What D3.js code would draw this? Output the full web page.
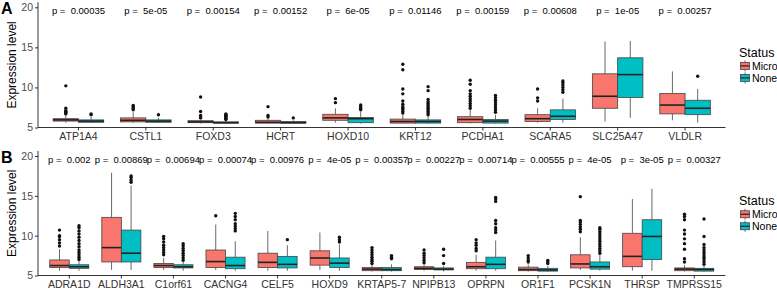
<!DOCTYPE html>
<html>
<head>
<meta charset="utf-8">
<style>
  body { margin: 0; background: #fff; }
  text { font-family: "Liberation Sans", Arial, sans-serif; }
</style>
</head>
<body>
<svg width="777" height="289"></svg>
<script src="https://d3js.org/d3.v7.min.js"></script>
<script>
  // panel A
  var genesA = ["ATP1A4", "CSTL1", "FOXD3", "HCRT", "HOXD10", "KRT12", "PCDHA1", "SCARA5", "SLC25A47", "VLDLR"];
  var pA = ["0.00035", "5e-05", "0.00154", "0.00152", "6e-05", "0.01146", "0.00159", "0.00608", "1e-05", "0.00257"];
  // [lower whisker, q1, median, q3, upper whisker]
  var microA = [
    [5.6, 5.8, 5.95, 6.1, 6.5], [5.6, 5.7, 5.9, 6.2, 6.9], [5.5, 5.6, 5.7, 5.85, 6.0],
    [5.5, 5.55, 5.65, 5.9, 6.1], [5.6, 5.9, 6.2, 6.65, 7.4], [5.5, 5.55, 5.75, 6.05, 6.6],
    [5.5, 5.6, 6.0, 6.35, 7.2], [5.6, 5.75, 6.1, 6.6, 7.4], [5.75, 7.4, 8.9, 11.7, 15.75],
    [5.9, 6.7, 7.8, 9.25, 12.0]
  ];
  var noneA = [
    [5.55, 5.65, 5.8, 5.95, 6.3], [5.55, 5.65, 5.8, 5.95, 6.2], [5.5, 5.55, 5.6, 5.7, 5.9],
    [5.5, 5.55, 5.6, 5.75, 5.9], [5.5, 5.6, 6.1, 6.25, 7.0], [5.5, 5.55, 5.75, 5.95, 6.4],
    [5.5, 5.55, 5.8, 6.0, 6.6], [5.6, 6.0, 6.4, 7.2, 8.6], [6.2, 8.75, 11.6, 13.7, 15.8],
    [5.6, 6.6, 7.4, 8.4, 9.8]
  ];
  var microOutA = [
    [6.7, 6.8, 6.9, 7.0, 7.1, 7.4, 10.2], [7.2, 7.4, 7.6, 7.75], [6.2, 6.3, 6.5, 7.0, 8.8],
    [6.3, 6.5, 7.6], [8.1, 8.6], [6.8, 7.0, 7.2, 7.4, 7.6, 7.9, 8.3, 9.2, 9.8, 12.2, 12.9],
    [7.4, 7.7, 8.0, 8.3, 8.6, 8.9, 9.2, 9.6, 10.4, 10.9], [8.3, 8.7, 9.8], [], []
  ];
  var noneOutA = [
    [6.6, 6.7], [6.6], [6.0, 6.1, 6.2, 6.3, 6.4, 6.5, 6.6, 6.7], [6.2], [7.2, 7.4, 7.6, 7.8],
    [6.6, 6.8, 7.0, 7.2, 7.4, 7.6, 7.8, 8.0, 8.2, 8.5, 9.6, 10.1],
    [6.9, 7.2, 7.5, 7.8, 8.1, 8.4, 8.7, 9.0], [9.4, 9.7, 10.0, 10.3, 10.6, 10.8], [], [11.4]
  ];

  // panel B
  var genesB = ["ADRA1D", "ALDH3A1", "C1orf61", "CACNG4", "CELF5", "HOXD9", "KRTAP5-7", "NPIPB13", "OPRPN", "OR1F1", "PCSK1N", "THRSP", "TMPRSS15"];
  var pB = ["0.002", "0.00869", "0.00694", "0.00074", "0.00976", "4e-05", "0.00357", "0.00227", "0.00714", "0.00555", "4e-05", "3e-05", "0.00327"];
  var microB = [
    [5.6, 6.0, 6.25, 6.95, 8.3], [5.7, 6.7, 8.5, 12.3, 17.9], [5.7, 6.0, 6.25, 6.5, 7.2],
    [5.7, 6.0, 6.75, 8.2, 11.4], [5.6, 6.0, 6.65, 7.8, 10.6], [5.7, 6.3, 7.2, 8.1, 10.4],
    [5.5, 5.6, 5.8, 6.0, 6.3], [5.6, 5.75, 5.9, 6.1, 6.4], [5.6, 5.85, 6.1, 6.65, 7.6],
    [5.5, 5.6, 5.75, 6.05, 6.4], [5.7, 5.95, 6.45, 7.6, 9.8], [5.6, 6.1, 7.4, 10.3, 14.6],
    [5.5, 5.6, 5.8, 5.95, 6.3]
  ];
  var noneB = [
    [5.6, 5.9, 6.1, 6.35, 6.8], [5.7, 6.7, 7.8, 10.7, 16.3], [5.6, 5.95, 6.1, 6.35, 6.7],
    [5.6, 5.85, 6.25, 7.3, 9.3], [5.6, 5.95, 6.4, 7.4, 8.8], [5.6, 6.0, 6.55, 7.2, 8.9],
    [5.5, 5.6, 5.75, 6.0, 6.4], [5.5, 5.7, 5.8, 5.95, 6.2], [5.6, 5.85, 6.4, 7.3, 9.4],
    [5.5, 5.55, 5.7, 5.9, 6.2], [5.6, 5.8, 6.1, 6.7, 7.6], [5.6, 7.0, 9.9, 12.0, 15.9],
    [5.5, 5.55, 5.75, 5.9, 6.2]
  ];
  var microOutB = [
    [8.7, 9.1, 9.5, 9.9, 10.0, 10.7], [], [7.6, 7.9, 8.2, 8.5, 8.8, 9.2, 9.6, 9.9], [12.5], [], [],
    [6.5, 6.8, 7.0, 7.3, 7.6, 7.9, 8.2, 8.5], [6.6, 6.9, 7.2, 7.5, 7.8, 8.2], [8.1, 8.4, 8.8, 9.1, 9.5],
    [6.7, 6.9, 7.2, 7.5], [10.5, 10.8, 11.1, 11.4, 11.7, 11.9, 14.9], [],
    [6.7, 7.1, 8.3, 9.0, 9.6, 10.2, 10.7, 12.0, 12.4, 12.7]
  ];
  var noneOutB = [
    [7.0, 7.3, 7.6, 7.9, 8.2, 8.6, 9.0, 9.4, 9.8, 10.2, 10.6, 11.0, 11.25], [16.7, 17.0, 17.3, 17.5],
    [6.9, 7.2, 7.5, 7.8, 8.1, 8.4, 8.7, 9.0], [10.6, 10.9, 11.2, 11.5, 12.0, 12.4, 12.8], [9.5],
    [9.2, 9.5, 9.8], [7.1, 7.3, 7.5], [6.5, 7.5, 8.3], [10.4, 10.7, 11.0, 11.5, 11.9, 14.3, 14.6, 14.8],
    [6.5, 6.7, 6.9], [7.8, 8.1, 8.4, 8.7, 9.0, 9.3, 9.6, 9.9, 10.2, 10.5, 10.8, 11.0], [],
    [6.4, 6.7, 7.0, 7.3, 7.6, 7.9, 8.2, 8.5, 8.9, 9.9, 12.1]
  ];

  var yTicks = [5, 10, 15, 20];
  var statuses = ["Micro", "None"];
  var colors = {Micro: "#F8766D", None: "#00BFC4"};

  var svg = d3.select("svg");

  function drawPanel(top, bottom, letter, genes, pvals, micro, none, microOut, noneOut) {
    var left = 38, right = 725.5;
    var g = svg.append("g");

    var x = d3.scaleBand().domain(genes).range([left, right]).paddingInner(0).paddingOuter(0.1);
    var y = d3.scaleLinear().domain([5, 20]).range([bottom, top + 5]);
    var bw = x.bandwidth();
    var boxW = bw * 0.375;

    // boxes
    var stats = {Micro: micro, None: none};
    var outs = {Micro: microOut, None: noneOut};
    statuses.forEach(function(s, k) {
      genes.forEach(function(gene, i) {
        var d = stats[s][i];
        var cx = x(gene) + bw / 2 + (k === 0 ? -1 : 1) * boxW / 2;
        var bg = g.append("g");
        bg.append("line")
            .attr("x1", cx).attr("x2", cx)
            .attr("y1", y(d[0])).attr("y2", y(d[1]))
            .attr("stroke", "#444").attr("stroke-width", 0.8);
        bg.append("line")
            .attr("x1", cx).attr("x2", cx)
            .attr("y1", y(d[3])).attr("y2", y(d[4]))
            .attr("stroke", "#444").attr("stroke-width", 0.8);
        bg.append("rect")
            .attr("x", cx - boxW / 2)
            .attr("y", y(d[3]))
            .attr("width", boxW)
            .attr("height", Math.max(y(d[1]) - y(d[3]), 1))
            .attr("fill", colors[s])
            .attr("stroke", "#444").attr("stroke-width", 0.8);
        bg.append("line")
            .attr("x1", cx - boxW / 2).attr("x2", cx + boxW / 2)
            .attr("y1", y(d[2])).attr("y2", y(d[2]))
            .attr("stroke", "#222").attr("stroke-width", 1.6);
        bg.selectAll("circle")
            .data(outs[s][i])
          .enter().append("circle")
            .attr("cx", cx)
            .attr("cy", function(v) { return y(v); })
            .attr("r", 1.7)
            .attr("fill", "#111");
      });
    });

    // axes
    g.append("g")
        .attr("transform", "translate(" + left + ",0)")
        .call(d3.axisLeft(y).tickValues(yTicks).tickSize(3).tickSizeOuter(0))
        .call(function(a) {
          a.select(".domain").remove();
          a.selectAll(".tick line").attr("stroke", "#333");
          a.selectAll(".tick text").attr("fill", "#4d4d4d").attr("font-size", 10.5).attr("x", -5)
              .style("font-family", '"Liberation Sans", Arial, sans-serif');
        });
    g.append("g")
        .attr("transform", "translate(0," + bottom + ")")
        .call(d3.axisBottom(x).tickSize(3).tickSizeOuter(0))
        .call(function(a) {
          a.select(".domain").remove();
          a.selectAll(".tick line").attr("stroke", "#333");
          a.selectAll(".tick text").attr("fill", "#333").attr("font-size", 10.5).attr("y", 5)
              .style("font-family", '"Liberation Sans", Arial, sans-serif');
        });
    g.append("line")
        .attr("x1", left).attr("x2", left).attr("y1", top).attr("y2", bottom)
        .attr("stroke", "#000").attr("stroke-width", 0.8);
    g.append("line")
        .attr("x1", left).attr("x2", right).attr("y1", bottom).attr("y2", bottom)
        .attr("stroke", "#000").attr("stroke-width", 0.8);

    // p values
    g.selectAll(".pval")
        .data(genes)
      .enter().append("text")
        .attr("x", function(d) { return x(d) + bw / 2; })
        .attr("y", y(19.6))
        .attr("dy", "0.35em")
        .attr("text-anchor", "middle")
        .attr("font-size", 9.5)
        .attr("fill", "#000")
        .attr("xml:space", "preserve")
        .text(function(d, i) { return "p =  " + pvals[i]; });

    // titles
    g.append("text")
        .attr("x", 1).attr("y", top + 12)
        .attr("font-size", 16).attr("font-weight", "bold")
        .text(letter);
    g.append("text")
        .attr("transform", "translate(16," + ((top + bottom) / 2) + ") rotate(-90)")
        .attr("text-anchor", "middle")
        .attr("font-size", 12)
        .attr("fill", "#000")
        .text("Expression level");

    // legend
    var lg = g.append("g").attr("transform", "translate(739," + ((top + bottom) / 2) + ")");
    lg.append("text")
        .attr("x", 0).attr("y", -8)
        .attr("font-size", 12.5)
        .text("Status");
    statuses.forEach(function(s, k) {
      var ky = 1 + k * 12;
      lg.append("line")
          .attr("x1", 6).attr("x2", 6).attr("y1", ky - 5.5).attr("y2", ky + 5.5)
          .attr("stroke", "#444").attr("stroke-width", 0.8);
      lg.append("rect")
          .attr("x", 1.5).attr("y", ky - 3.5).attr("width", 9).attr("height", 7)
          .attr("fill", colors[s]).attr("stroke", "#444").attr("stroke-width", 0.8);
      lg.append("line")
          .attr("x1", 1.5).attr("x2", 10.5).attr("y1", ky).attr("y2", ky)
          .attr("stroke", "#222").attr("stroke-width", 1.2);
      lg.append("text")
          .attr("x", 13).attr("y", ky).attr("dy", "0.35em")
          .attr("font-size", 10.5)
          .text(s);
    });
  }

  drawPanel(2.3, 127.5, "A", genesA, pA, microA, noneA, microOutA, noneOutA);
  drawPanel(151, 275.5, "B", genesB, pB, microB, noneB, microOutB, noneOutB);
</script>
</body>
</html>
